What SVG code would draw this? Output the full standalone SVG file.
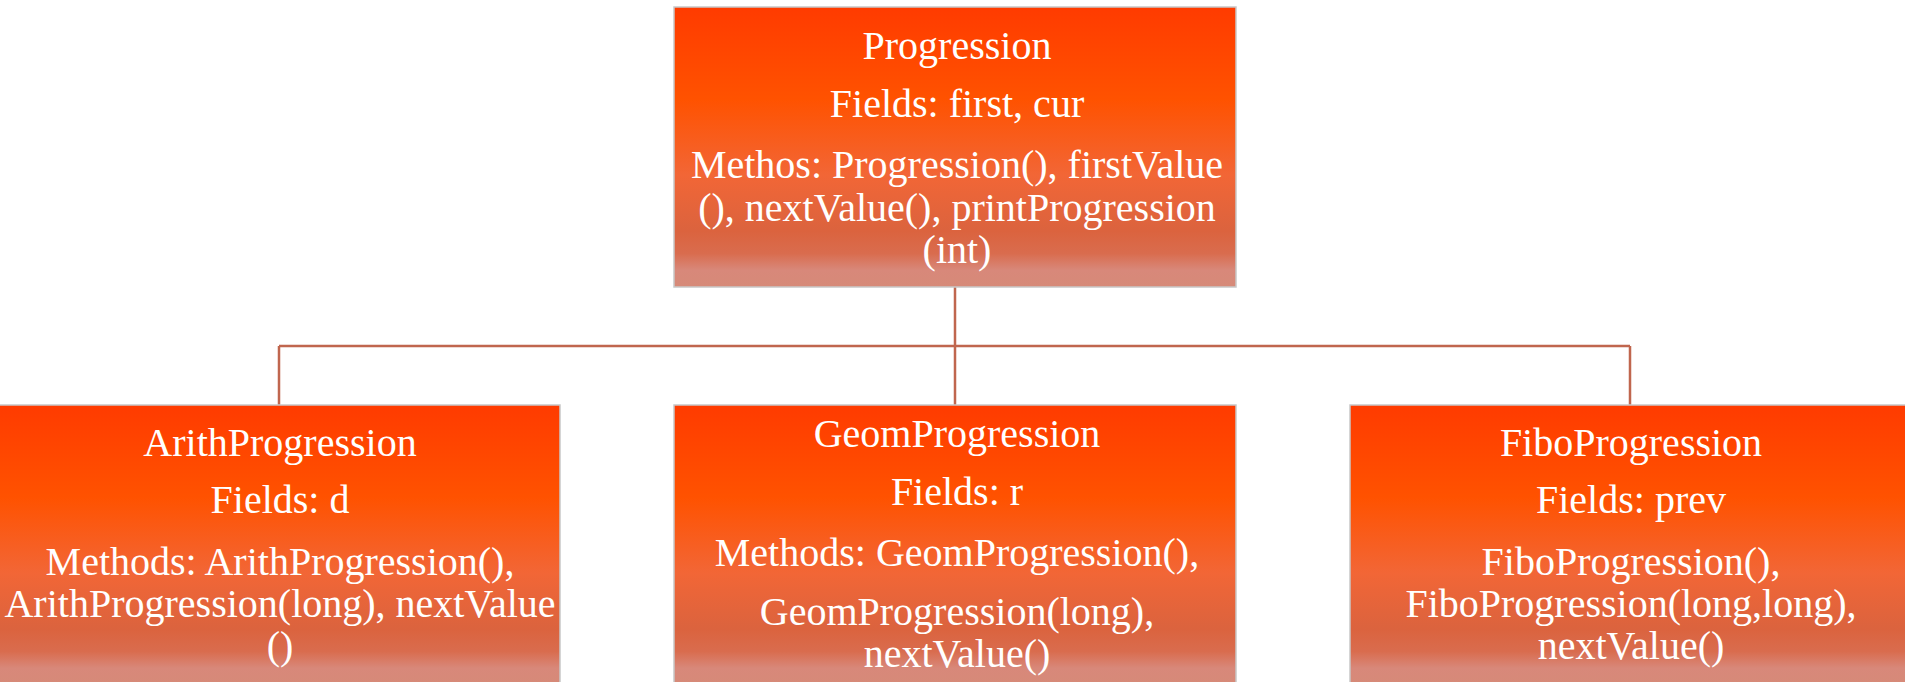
<svg xmlns="http://www.w3.org/2000/svg" width="1905" height="682" viewBox="0 0 1905 682">
<defs>
<linearGradient id="g" x1="0" y1="0" x2="0" y2="1">
<stop offset="0" stop-color="#FF3B00"/>
<stop offset="0.33" stop-color="#FF5200"/>
<stop offset="0.6" stop-color="#F26636"/>
<stop offset="0.8" stop-color="#DB633E"/>
<stop offset="0.88" stop-color="#D96C4E"/>
<stop offset="0.94" stop-color="#D8887A"/>
<stop offset="1" stop-color="#D68A78"/>
</linearGradient>
<style>
.box{fill:url(#g);stroke:#C8C8C8;stroke-width:1.5}
.t{font-family:"Liberation Serif","Times New Roman",serif;font-size:40px;fill:#FFFFFF;text-anchor:middle}
.c{fill:none;stroke:#C0664E;stroke-width:2.5}
</style>
</defs>
<rect width="1905" height="682" fill="#FFFFFF"/>
<g id="connectors">
<path class="c" d="M955 287 V346 M279 346 H1630 M279 346 V405 M955 346 V405 M1630 346 V405"/>
</g>
<g id="progression">
<rect class="box" x="674" y="7" width="562" height="280"/>
<text class="t" x="957" y="59">Progression</text>
<text class="t" x="957" y="117">Fields: first, cur</text>
<text class="t" x="957" y="178">Methos: Progression(), firstValue</text>
<text class="t" x="957" y="221">(), nextValue(), printProgression</text>
<text class="t" x="957" y="263">(int)</text>
</g>
<g id="arith">
<rect class="box" x="-2" y="405" width="562" height="280"/>
<text class="t" x="280" y="456">ArithProgression</text>
<text class="t" x="280" y="513">Fields: d</text>
<text class="t" x="280" y="575">Methods: ArithProgression(),</text>
<text class="t" x="280" y="617">ArithProgression(long), nextValue</text>
<text class="t" x="280" y="659">()</text>
</g>
<g id="geom">
<rect class="box" x="674" y="405" width="562" height="280"/>
<text class="t" x="957" y="447">GeomProgression</text>
<text class="t" x="957" y="505">Fields: r</text>
<text class="t" x="957" y="566">Methods: GeomProgression(),</text>
<text class="t" x="957" y="625">GeomProgression(long),</text>
<text class="t" x="957" y="667">nextValue()</text>
</g>
<g id="fibo">
<rect class="box" x="1350" y="405" width="562" height="280"/>
<text class="t" x="1631" y="456">FiboProgression</text>
<text class="t" x="1631" y="513">Fields: prev</text>
<text class="t" x="1631" y="575">FiboProgression(),</text>
<text class="t" x="1631" y="617">FiboProgression(long,long),</text>
<text class="t" x="1631" y="659">nextValue()</text>
</g>
</svg>
